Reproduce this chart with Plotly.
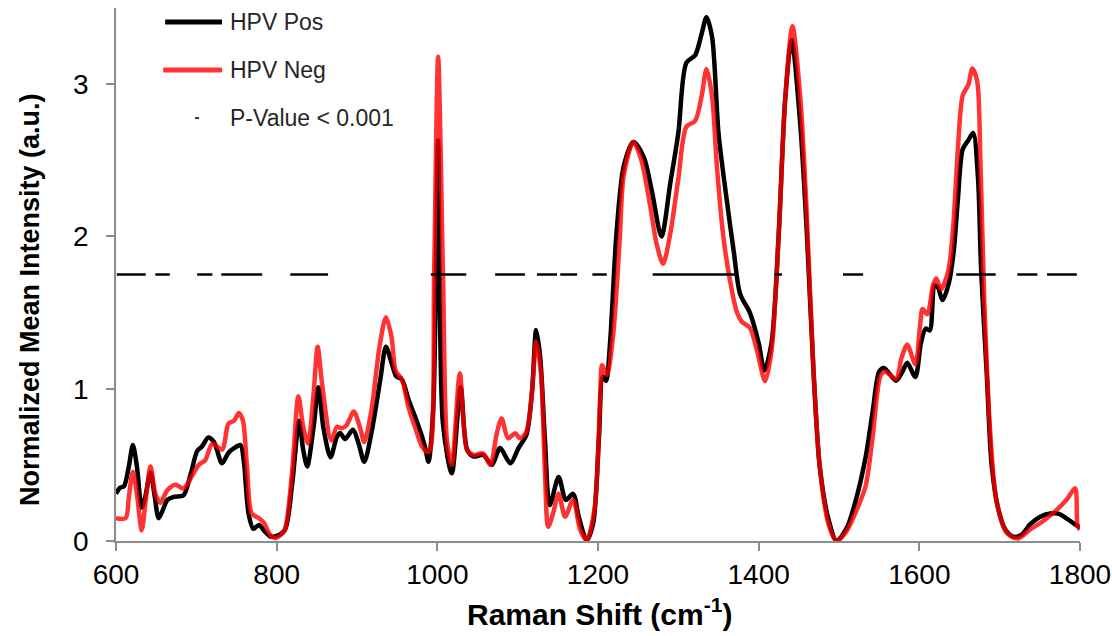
import plotly.graph_objects as go

# Mean Raman spectra (normalized) for the two groups
pos_shift = [600, 605, 610, 616, 621, 626, 632, 636, 643, 648, 653, 658, 664, 672, 684, 693, 701, 707, 715, 722,
             732, 740, 747, 755, 759, 765, 771, 778, 784, 792, 798, 810, 819, 828, 833, 838, 846, 852, 858, 867,
             875, 879, 885, 895, 902, 909, 918, 929, 936, 943, 949, 956, 964, 972, 981, 985, 989, 995, 1001, 1007,
             1018, 1029, 1037, 1045, 1057, 1068, 1078, 1091, 1101, 1111, 1118, 1123, 1128, 1134, 1140, 1151, 1160,
             1169, 1176, 1186, 1194, 1201, 1206, 1210, 1215, 1223, 1232, 1244, 1257, 1267, 1279, 1290, 1300, 1310,
             1321, 1329, 1335, 1342, 1350, 1360, 1369, 1377, 1389, 1400, 1407, 1416, 1425, 1433, 1441, 1452, 1460,
             1468, 1476, 1487, 1497, 1510, 1520, 1533, 1542, 1550, 1556, 1571, 1579, 1585, 1595, 1602, 1608, 1613,
             1619, 1623, 1629, 1637, 1643, 1648, 1654, 1661, 1667, 1673, 1677, 1684, 1690, 1698, 1707, 1717, 1727,
             1738, 1750, 1763, 1773, 1784, 1800]
pos_intensity = [0.31, 0.35, 0.36, 0.49, 0.63, 0.49, 0.22, 0.28, 0.45, 0.30, 0.15, 0.20, 0.27, 0.29, 0.30, 0.44,
                 0.59, 0.62, 0.68, 0.65, 0.51, 0.58, 0.61, 0.63, 0.53, 0.18, 0.08, 0.105, 0.07, 0.03, 0.03, 0.07,
                 0.36, 0.79, 0.60, 0.49, 0.75, 1.01, 0.75, 0.55, 0.685, 0.71, 0.67, 0.73, 0.64, 0.52, 0.71, 1.06,
                 1.275, 1.17, 1.08, 1.06, 0.93, 0.82, 0.685, 0.61, 0.52, 0.88, 2.63, 0.77, 0.445, 1.01, 0.60, 0.555,
                 0.565, 0.50, 0.61, 0.51, 0.61, 0.70, 0.99, 1.385, 1.21, 0.66, 0.236, 0.42, 0.27, 0.31, 0.16, 0.005,
                 0.116, 0.66, 1.08, 1.05, 1.30, 2.02, 2.46, 2.62, 2.52, 2.30, 2.00, 2.35, 2.68, 3.14, 3.19, 3.33,
                 3.44, 3.31, 2.68, 2.25, 1.90, 1.62, 1.50, 1.30, 1.12, 1.30, 2.02, 2.90, 3.29, 2.72, 2.02, 1.145,
                 0.49, 0.14, 0.0, 0.09, 0.25, 0.547, 0.853, 1.112, 1.136, 1.053, 1.112, 1.171, 1.077, 1.30, 1.395,
                 1.383, 1.678, 1.666, 1.583, 1.70, 1.913, 2.243, 2.573, 2.632, 2.679, 2.384, 1.77, 1.089, 0.50,
                 0.217, 0.075, 0.028, 0.04, 0.11, 0.158, 0.18, 0.18, 0.146, 0.087]

neg_shift = [600, 612, 616, 621, 626, 632, 637, 643, 649, 655, 664, 674, 684, 695, 703, 711, 720, 732, 740, 747,
             753, 758, 763, 769, 778, 784, 792, 798, 805, 810, 819, 827, 833, 839, 846, 851, 857, 868, 875, 881,
             887, 896, 904, 909, 918, 928, 936, 943, 948, 956, 964, 972, 981, 987, 991, 996, 1001, 1007, 1012,
             1018, 1028, 1037, 1045, 1057, 1066, 1074, 1080, 1088, 1097, 1103, 1111, 1118, 1123, 1129, 1134, 1138,
             1144, 1151, 1159, 1169, 1178, 1186, 1196, 1203, 1205, 1211, 1219, 1227, 1232, 1244, 1254, 1265, 1273,
             1281, 1290, 1300, 1310, 1321, 1329, 1335, 1342, 1348, 1356, 1364, 1373, 1379, 1389, 1398, 1408, 1416,
             1425, 1433, 1442, 1452, 1460, 1468, 1476, 1487, 1497, 1510, 1520, 1533, 1542, 1552, 1558, 1571, 1578,
             1585, 1595, 1601, 1604, 1610, 1617, 1621, 1627, 1636, 1642, 1648, 1654, 1661, 1666, 1672, 1676, 1681,
             1688, 1696, 1709, 1723, 1738, 1755, 1771, 1784, 1794, 1797, 1800]
neg_intensity = [0.15, 0.15, 0.29, 0.455, 0.31, 0.07, 0.27, 0.49, 0.31, 0.25, 0.335, 0.37, 0.345, 0.43, 0.50, 0.53,
                 0.64, 0.60, 0.77, 0.79, 0.84, 0.79, 0.49, 0.18, 0.15, 0.12, 0.04, 0.02, 0.04, 0.07, 0.44, 0.95,
                 0.75, 0.64, 0.97, 1.275, 1.01, 0.66, 0.75, 0.74, 0.76, 0.85, 0.74, 0.65, 0.86, 1.275, 1.47, 1.34,
                 1.12, 1.06, 0.88, 0.75, 0.62, 0.585, 0.60, 1.76, 3.18, 1.76, 0.66, 0.50, 1.10, 0.60, 0.565, 0.575,
                 0.50, 0.707, 0.805, 0.675, 0.707, 0.674, 0.72, 0.99, 1.31, 1.10, 0.445, 0.094, 0.18, 0.31, 0.16,
                 0.27, 0.07, 0.005, 0.225, 0.99, 1.155, 1.09, 1.36, 1.98, 2.40, 2.62, 2.50, 2.20, 1.95, 1.82, 2.02,
                 2.38, 2.72, 2.76, 2.92, 3.10, 2.92, 2.46, 2.00, 1.72, 1.50, 1.44, 1.40, 1.25, 1.05, 1.25, 2.02,
                 2.90, 3.38, 2.90, 2.13, 1.145, 0.49, 0.11, 0.0, 0.07, 0.18, 0.358, 0.688, 1.089, 1.112, 1.065,
                 1.206, 1.289, 1.16, 1.418, 1.524, 1.489, 1.678, 1.725, 1.654, 1.772, 2.054, 2.573, 2.926, 2.997,
                 3.103, 3.02, 2.50, 1.56, 0.735, 0.264, 0.052, 0.017, 0.076, 0.135, 0.205, 0.276, 0.346, 0.10, 0.076]

# Wavenumber ranges where the group difference is significant (p < 0.001)
sig_start = [601, 649, 701, 731, 817, 992, 1072, 1124, 1153, 1193, 1268, 1420, 1505, 1646, 1722, 1759]
sig_end = [637, 667, 720, 782, 864, 1036, 1109, 1149, 1174, 1211, 1371, 1429, 1530, 1695, 1747, 1796]
sig_level = 1.75

series_names = ["HPV Pos", "HPV Neg", "P-Value < 0.001"]
x_ticks = [600, 800, 1000, 1200, 1400, 1600, 1800]
y_ticks = [0, 1, 2, 3]

BLACK = "#000000"
RED = "rgba(255,0,0,0.8)"
AXIS = "#8c8c8c"
FONT = "Liberation Sans, Arial, sans-serif"

sig_x, sig_y = [], []
for s, e in zip(sig_start, sig_end):
    sig_x += [s, e, None]
    sig_y += [sig_level, sig_level, None]

fig = go.Figure()
fig.add_trace(go.Scatter(x=pos_shift, y=pos_intensity, mode="lines", name=series_names[0],
                         line=dict(color=BLACK, width=4.5, shape="spline", smoothing=0.8),
                         showlegend=False))
fig.add_trace(go.Scatter(x=neg_shift, y=neg_intensity, mode="lines", name=series_names[1],
                         line=dict(color=RED, width=4.5, shape="spline", smoothing=0.8),
                         showlegend=False))
fig.add_trace(go.Scatter(x=sig_x, y=sig_y, mode="lines", name=series_names[2],
                         line=dict(color=BLACK, width=2.5), connectgaps=False,
                         showlegend=False))

# Legend drawn in plot-domain coordinates
fig.add_shape(type="line", xref="x domain", yref="y domain", x0=0.051, x1=0.110, y0=0.9737, y1=0.9737,
              line=dict(color=BLACK, width=5))
fig.add_shape(type="line", xref="x domain", yref="y domain", x0=0.049, x1=0.110, y0=0.8837, y1=0.8837,
              line=dict(color=RED, width=5))
fig.add_shape(type="line", xref="x domain", yref="y domain", x0=0.0820, x1=0.0862, y0=0.7936, y1=0.7936,
              line=dict(color=BLACK, width=1.5))
for name, yy in zip(series_names, [0.9737, 0.8837, 0.7936]):
    fig.add_annotation(text=name, xref="x domain", yref="y domain", x=0.116, y=yy,
                       xanchor="left", yanchor="middle", showarrow=False,
                       font=dict(family=FONT, size=23, color="#262626"))

# Axis titles
fig.add_annotation(text="<b>Normalized Mean Intensity (a.u.)</b>", xref="paper", yref="paper",
                   x=-0.0892, y=0.452, textangle=-90, showarrow=False,
                   xanchor="center", yanchor="middle",
                   font=dict(family=FONT, size=27, color="#000000"))
fig.add_annotation(text="<b>Raman Shift (cm<sup>-1</sup>)</b>", xref="paper", yref="paper",
                   x=0.502, y=-0.133, showarrow=False, xanchor="center", yanchor="middle",
                   font=dict(family=FONT, size=30, color="#000000"))

fig.update_xaxes(range=[600, 1800], tickvals=x_ticks, ticks="outside", ticklen=8, tickwidth=1.5,
                 tickcolor=AXIS, showline=True, linecolor=AXIS, linewidth=1.5, showgrid=False,
                 zeroline=False, automargin=False,
                 tickfont=dict(family=FONT, size=28, color="#000000"))
fig.update_yaxes(range=[0, 3.5], tickvals=y_ticks, ticks="outside", ticklen=8, tickwidth=1.5,
                 tickcolor=AXIS, showline=True, linecolor=AXIS, linewidth=1.5, showgrid=False,
                 zeroline=False, ticklabelstandoff=12, automargin=False,
                 tickfont=dict(family=FONT, size=28, color="#000000"))

fig.update_layout(width=1112, height=636, autosize=False,
                  margin=dict(l=116, r=32, t=8, b=95),
                  plot_bgcolor="white", paper_bgcolor="white")

fig.write_html("out.html")
